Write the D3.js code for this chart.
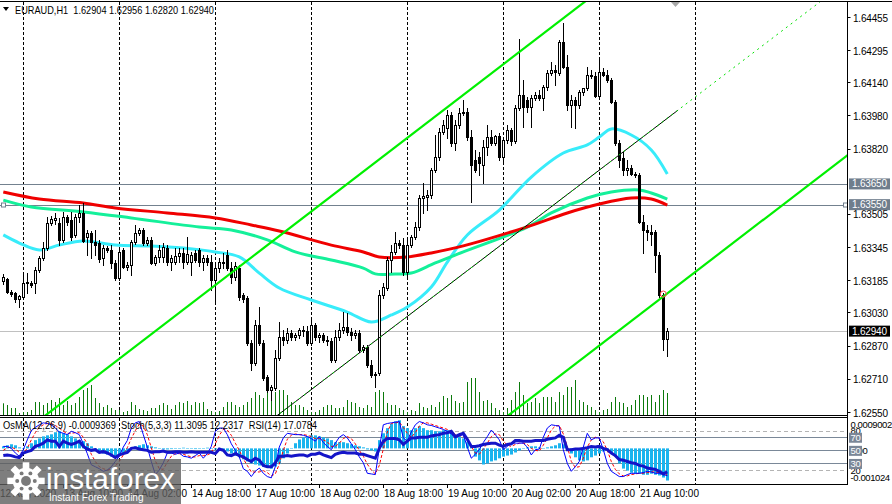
<!DOCTYPE html>
<html>
<head>
<meta charset="utf-8">
<script src="https://cdn.jsdelivr.net/npm/d3@7"></script>
<style>
  body { margin: 0; background: #fff; }
  svg { display: block; font-family: "Liberation Sans", Arial, sans-serif; }
</style>
</head>
<body>
<svg id="chart" width="892" height="504"></svg>
<script>
// EURAUD H1, bar 0 = 12 Aug 19:00, last bar = 21 Aug 17:00
var headerText = "EURAUD,H1  1.62904 1.62956 1.62820 1.62940";
var paneText = "OsMA(12,26,9) -0.0009369  Stoch(5,3,3) 11.3095 12.2317  RSI(14) 17.0784";

var opens = [
  1.63182, 1.63192, 1.63129, 1.63124, 1.63095, 1.63104, 1.63172, 1.63172, 1.63172, 1.63235,
  1.63293, 1.63341, 1.63461, 1.63476, 1.63461, 1.63380, 1.63490, 1.63476, 1.63404, 1.63490,
  1.63510, 1.63394, 1.63413, 1.63370, 1.63365, 1.63293, 1.63341, 1.63331, 1.63268, 1.63197,
  1.63331, 1.63250, 1.63259, 1.63370, 1.63413, 1.63428, 1.63365, 1.63380, 1.63268, 1.63298,
  1.63298, 1.63341, 1.63273, 1.63273, 1.63302, 1.63317, 1.63273, 1.63273, 1.63317, 1.63331,
  1.63273, 1.63293, 1.63273, 1.63187, 1.63245, 1.63273, 1.63307, 1.63245, 1.63201, 1.63245,
  1.63114, 1.63100, 1.62883, 1.62786, 1.62970, 1.62883, 1.62718, 1.62656, 1.62665, 1.62810,
  1.62912, 1.62897, 1.62931, 1.62912, 1.62921, 1.62945, 1.62941, 1.62883, 1.62970, 1.62912,
  1.62921, 1.62897, 1.62892, 1.62801, 1.62912, 1.62945, 1.62960, 1.62936, 1.62921, 1.62931,
  1.62849, 1.62863, 1.62777, 1.62728, 1.62738, 1.63114, 1.63148, 1.63283, 1.63322, 1.63365,
  1.63355, 1.63225, 1.63355, 1.63394, 1.63442, 1.63582, 1.63587, 1.63597, 1.63717, 1.63780,
  1.63900, 1.63920, 1.63982, 1.63847, 1.63934, 1.63992, 1.63997, 1.63876, 1.63765, 1.63780,
  1.63741, 1.63828, 1.63876, 1.63847, 1.63881, 1.63780, 1.63862, 1.63910, 1.63857, 1.64016,
  1.64079, 1.64055, 1.64021, 1.64064, 1.64079, 1.64064, 1.64117, 1.64185, 1.64199, 1.64185,
  1.64334, 1.64214, 1.64031, 1.64055, 1.64031, 1.64093, 1.64113, 1.64175, 1.64170, 1.64074,
  1.64190, 1.64175, 1.64151, 1.64045, 1.63847, 1.63775, 1.63717, 1.63727, 1.63698, 1.63693,
  1.63466, 1.63428, 1.63418, 1.63418, 1.63307, 1.63114, 1.62904
];
var highs = [
  1.63216, 1.63197, 1.63138, 1.63129, 1.63114, 1.63221, 1.63221, 1.63182, 1.63250, 1.63302,
  1.63370, 1.63490, 1.63495, 1.63510, 1.63486, 1.63514, 1.63500, 1.63514, 1.63505, 1.63548,
  1.63558, 1.63428, 1.63423, 1.63428, 1.63380, 1.63355, 1.63351, 1.63355, 1.63283, 1.63331,
  1.63341, 1.63273, 1.63380, 1.63452, 1.63437, 1.63437, 1.63394, 1.63394, 1.63307, 1.63355,
  1.63365, 1.63355, 1.63307, 1.63341, 1.63341, 1.63341, 1.63394, 1.63322, 1.63331, 1.63341,
  1.63307, 1.63307, 1.63307, 1.63259, 1.63293, 1.63317, 1.63331, 1.63273, 1.63273, 1.63259,
  1.63124, 1.63109, 1.62897, 1.62994, 1.63056, 1.62897, 1.62728, 1.62680, 1.62849, 1.62984,
  1.62945, 1.62955, 1.62945, 1.62931, 1.62955, 1.62965, 1.62965, 1.62994, 1.62979, 1.62931,
  1.62931, 1.62916, 1.62907, 1.62945, 1.62979, 1.63032, 1.63027, 1.62955, 1.62945, 1.62945,
  1.62873, 1.62873, 1.62801, 1.62742, 1.63138, 1.63172, 1.63298, 1.63355, 1.63418, 1.63380,
  1.63389, 1.63380, 1.63404, 1.63466, 1.63597, 1.63654, 1.63621, 1.63727, 1.63886, 1.63920,
  1.63958, 1.64006, 1.63997, 1.63958, 1.64016, 1.64055, 1.64016, 1.63910, 1.63814, 1.63804,
  1.63862, 1.63934, 1.63910, 1.63886, 1.63896, 1.63876, 1.63934, 1.63920, 1.64031, 1.64349,
  1.64151, 1.64069, 1.64079, 1.64093, 1.64103, 1.64127, 1.64199, 1.64238, 1.64224, 1.64344,
  1.64426, 1.64272, 1.64079, 1.64069, 1.64103, 1.64113, 1.64214, 1.64199, 1.64190, 1.64248,
  1.64209, 1.64199, 1.64161, 1.64055, 1.63862, 1.63804, 1.63765, 1.63741, 1.63707, 1.63702,
  1.63500, 1.63452, 1.63452, 1.63428, 1.63322, 1.63124, 1.62956
];
var lows = [
  1.63167, 1.63124, 1.63109, 1.63080, 1.63056, 1.63100, 1.63124, 1.63153, 1.63124, 1.63225,
  1.63283, 1.63331, 1.63452, 1.63457, 1.63355, 1.63370, 1.63452, 1.63380, 1.63394, 1.63466,
  1.63370, 1.63307, 1.63293, 1.63307, 1.63273, 1.63259, 1.63322, 1.63245, 1.63187, 1.63187,
  1.63245, 1.63235, 1.63211, 1.63360, 1.63404, 1.63355, 1.63355, 1.63264, 1.63259, 1.63273,
  1.63273, 1.63259, 1.63235, 1.63264, 1.63273, 1.63245, 1.63264, 1.63211, 1.63273, 1.63254,
  1.63235, 1.63259, 1.63138, 1.63076, 1.63225, 1.63245, 1.63235, 1.63172, 1.63187, 1.63090,
  1.63080, 1.62873, 1.62752, 1.62777, 1.62873, 1.62704, 1.62646, 1.62608, 1.62656, 1.62801,
  1.62873, 1.62883, 1.62897, 1.62897, 1.62907, 1.62916, 1.62873, 1.62873, 1.62897, 1.62888,
  1.62888, 1.62873, 1.62791, 1.62791, 1.62897, 1.62931, 1.62921, 1.62897, 1.62907, 1.62839,
  1.62839, 1.62767, 1.62718, 1.62670, 1.62728, 1.63100, 1.63138, 1.63225, 1.63312, 1.63341,
  1.63211, 1.63197, 1.63346, 1.63384, 1.63428, 1.63510, 1.63524, 1.63582, 1.63707, 1.63765,
  1.63891, 1.63872, 1.63833, 1.63814, 1.63920, 1.63982, 1.63862, 1.63563, 1.63707, 1.63693,
  1.63654, 1.63789, 1.63838, 1.63838, 1.63765, 1.63756, 1.63847, 1.63838, 1.63847, 1.64006,
  1.63924, 1.63997, 1.63924, 1.64055, 1.64055, 1.64006, 1.64103, 1.64175, 1.64127, 1.64175,
  1.64209, 1.64006, 1.63924, 1.63920, 1.64016, 1.64079, 1.64103, 1.64161, 1.64069, 1.64064,
  1.64170, 1.64141, 1.64040, 1.63838, 1.63731, 1.63693, 1.63693, 1.63693, 1.63683, 1.63461,
  1.63317, 1.63380, 1.63355, 1.63225, 1.63104, 1.62849, 1.62820
];
var closes = [
  1.63201, 1.63129, 1.63119, 1.63095, 1.63109, 1.63172, 1.63177, 1.63162, 1.63235, 1.63293,
  1.63341, 1.63461, 1.63481, 1.63486, 1.63380, 1.63490, 1.63466, 1.63394, 1.63490, 1.63510,
  1.63375, 1.63413, 1.63370, 1.63355, 1.63288, 1.63341, 1.63331, 1.63268, 1.63197, 1.63322,
  1.63250, 1.63259, 1.63370, 1.63413, 1.63428, 1.63365, 1.63380, 1.63268, 1.63298, 1.63331,
  1.63346, 1.63273, 1.63293, 1.63302, 1.63317, 1.63273, 1.63312, 1.63307, 1.63283, 1.63273,
  1.63293, 1.63273, 1.63187, 1.63245, 1.63273, 1.63268, 1.63245, 1.63201, 1.63254, 1.63104,
  1.63095, 1.62883, 1.62786, 1.62970, 1.62883, 1.62714, 1.62656, 1.62670, 1.62810, 1.62912,
  1.62897, 1.62931, 1.62912, 1.62921, 1.62945, 1.62941, 1.62883, 1.62970, 1.62912, 1.62921,
  1.62897, 1.62892, 1.62801, 1.62912, 1.62945, 1.62960, 1.62936, 1.62921, 1.62931, 1.62849,
  1.62863, 1.62777, 1.62728, 1.62733, 1.63114, 1.63153, 1.63283, 1.63322, 1.63365, 1.63355,
  1.63225, 1.63355, 1.63394, 1.63442, 1.63582, 1.63592, 1.63597, 1.63717, 1.63780, 1.63900,
  1.63934, 1.63982, 1.63847, 1.63934, 1.63992, 1.63997, 1.63876, 1.63741, 1.63717, 1.63751,
  1.63828, 1.63876, 1.63847, 1.63881, 1.63780, 1.63862, 1.63910, 1.63857, 1.64016, 1.64079,
  1.64021, 1.64021, 1.64064, 1.64079, 1.64064, 1.64117, 1.64185, 1.64199, 1.64190, 1.64334,
  1.64214, 1.64031, 1.64055, 1.64031, 1.64093, 1.64113, 1.64175, 1.64170, 1.64074, 1.64190,
  1.64175, 1.64151, 1.64045, 1.63847, 1.63765, 1.63717, 1.63727, 1.63698, 1.63693, 1.63466,
  1.63428, 1.63418, 1.63409, 1.63307, 1.63114, 1.62902, 1.62940
];
var volumes = [
  1170, 1000, 700, 700, 200, 300, 300, 500, 1300, 1300,
  1000, 1200, 1500, 1300, 1700, 1000, 1400, 1000, 1200, 1800,
  2500, 2700, 3000, 1700, 1200, 800, 1000, 700, 500, 500,
  300, 400, 1300, 1000, 600, 500, 400, 700, 700, 1000,
  1200, 1000, 600, 1000, 1300, 1200, 1400, 1000, 1300, 1200,
  1300, 600, 400, 300, 400, 800, 1300, 1300, 1000, 800,
  1000, 1300, 1700, 2300, 2000, 1700, 2300, 2200, 2300, 2500,
  2500, 2000, 1300, 1000, 1000, 800, 500, 300, 300, 500,
  800, 1000, 1000, 700, 700, 800, 1500, 1300, 1200, 800,
  700, 1000, 800, 2300, 2500, 2300, 1200, 1000, 1000, 700,
  500, 300, 500, 400, 1200, 800, 700, 1000, 800, 1300,
  1900, 1700, 2000, 1400, 1200, 1300, 3300, 3700, 3700, 2300,
  1400, 1500, 1200, 700, 500, 300, 700, 1500, 2300, 3300,
  2000, 1200, 1300, 1700, 1200, 1800, 1800, 1800, 1300, 2300,
  2000, 2800, 2800, 3500, 1500, 1300, 1000, 800, 500, 300,
  500, 600, 1300, 1800, 1300, 1200, 800, 1000, 1500, 2000,
  2000, 1800, 2000, 1300, 2000, 2500, 2200
];

// moving averages, read at sample bars
var maCyanBars = [0, 4, 9, 14, 20, 28, 37, 45, 53, 59, 64, 69, 77, 86, 92, 97, 101, 107, 111, 116, 124, 132, 140, 146, 149, 152, 157, 162, 166];
var maCyan = [1.63404, 1.63365, 1.63331, 1.63355, 1.63375, 1.63355, 1.63351, 1.63341, 1.63322, 1.63298, 1.63220, 1.63148, 1.63090, 1.63032, 1.62984, 1.63018, 1.63056, 1.63153, 1.63273, 1.63404, 1.63524, 1.63683, 1.63799, 1.63838, 1.63876, 1.63915, 1.63886, 1.63814, 1.63698];
var maGreenBars = [0, 7, 20, 32, 49, 57, 66, 73, 82, 90, 93, 98, 102, 108, 115, 131, 137, 146, 152, 159, 162, 166];
var maGreen = [1.63572, 1.63539, 1.63515, 1.63486, 1.63442, 1.63428, 1.63380, 1.63322, 1.63283, 1.63244, 1.63216, 1.63216, 1.63220, 1.63269, 1.63322, 1.63442, 1.63510, 1.63582, 1.63611, 1.63621, 1.63606, 1.63577];
var maRedBars = [0, 9, 20, 28, 41, 53, 62, 69, 82, 90, 94, 101, 107, 115, 130, 141, 149, 157, 162, 166];
var maRed = [1.63611, 1.63577, 1.63558, 1.63534, 1.63510, 1.63486, 1.63452, 1.63423, 1.63355, 1.63322, 1.63298, 1.63298, 1.63317, 1.63351, 1.63437, 1.63510, 1.63553, 1.63582, 1.63577, 1.63548];

var osma = [
  0.00006, 0.00009, 0.00012, 0.00009, 0.00003, 0.00001, 0.00006, 0.00015, 0.00024, 0.00029,
  0.00035, 0.00038, 0.00041, 0.00047, 0.00050, 0.00044, 0.00041, 0.00035, 0.00029, 0.00024,
  0.00021, 0.00015, 0.00006, -0.00006, -0.00009, -0.00015, -0.00018, -0.00024, -0.00024, -0.00021,
  -0.00015, -0.00009, 0.00000, 0.00006, 0.00009, 0.00012, 0.00009, 0.00006, 0.00003, 0.00001,
  -0.00003, -0.00003, -0.00002, -0.00001, 0.00001, 0.00002, 0.00001, -0.00001, -0.00002, -0.00001,
  0.00001, 0.00002, 0.00001, -0.00003, -0.00002, -0.00005, -0.00009, -0.00015, -0.00021, -0.00026,
  -0.00032, -0.00038, -0.00044, -0.00047, -0.00050, -0.00053, -0.00056, -0.00059, -0.00053, -0.00044,
  -0.00029, -0.00015, 0.00001, 0.00015, 0.00026, 0.00032, 0.00035, 0.00038, 0.00038, 0.00035,
  0.00032, 0.00029, 0.00024, 0.00018, 0.00018, 0.00018, 0.00015, 0.00012, 0.00009, 0.00006,
  0.00003, -0.00003, -0.00006, -0.00009, 0.00024, 0.00044, 0.00059, 0.00071, 0.00079, 0.00082,
  0.00065, 0.00059, 0.00053, 0.00059, 0.00065, 0.00059, 0.00053, 0.00053, 0.00050, 0.00050,
  0.00053, 0.00053, 0.00050, 0.00038, 0.00035, 0.00029, 0.00018, 0.00000, -0.00024, -0.00035,
  -0.00047, -0.00044, -0.00038, -0.00035, -0.00029, -0.00024, -0.00021, -0.00018, -0.00012, -0.00006,
  0.00000, 0.00003, 0.00006, 0.00006, 0.00003, 0.00001, 0.00003, 0.00006, 0.00009, 0.00015,
  0.00012, 0.00000, -0.00015, -0.00026, -0.00035, -0.00038, -0.00035, -0.00026, -0.00021, -0.00015,
  -0.00009, -0.00006, -0.00012, -0.00024, -0.00044, -0.00059, -0.00065, -0.00071, -0.00074, -0.00074,
  -0.00077, -0.00077, -0.00074, -0.00077, -0.00079, -0.00085, -0.0009369
];
var rsi = [
  42, 43, 42, 40, 39, 46, 48, 50, 56, 58,
  61, 66, 64, 64, 56, 64, 61, 59, 61, 64,
  56, 52, 50, 51, 47, 48, 46, 43, 39, 43,
  45, 47, 53, 54, 52, 51, 50, 47, 48, 48,
  49, 47, 47, 48, 48, 47, 47, 48, 47, 47,
  47, 47, 47, 45, 52, 50, 43, 42, 45, 42,
  40, 36, 33, 38, 35, 27, 25, 25, 31, 41,
  41, 42, 41, 42, 43, 43, 41, 44, 44, 46,
  43, 41, 39, 44, 46, 47, 46, 46, 46, 44,
  44, 42, 40, 38, 53, 64, 68, 68, 68, 66,
  59, 64, 69, 69, 70, 70, 70, 72, 73, 74,
  76, 77, 79, 71, 74, 76, 67, 56, 56, 57,
  59, 60, 61, 61, 58, 56, 59, 60, 65, 65,
  64, 64, 64, 65, 65, 65, 67, 68, 69, 73,
  70, 51, 51, 52, 52, 53, 54, 56, 55, 56,
  53, 51, 46, 42, 36, 35, 33, 31, 30, 27,
  26, 23, 22, 21, 18, 14, 17.0784
];
var stochMain = [
  56, 56, 53, 46, 41, 51, 66, 80, 85, 89,
  92, 91, 89, 84, 78, 76, 74, 79, 77, 74,
  60, 45, 28, 25, 22, 18, 20, 25, 33, 41,
  55, 65, 84, 92, 94, 74, 55, 33, 13, 20,
  31, 46, 46, 44, 46, 41, 40, 38, 42, 46,
  38, 45, 56, 79, 84, 84, 74, 60, 50, 40,
  22, 18, 10, 18, 23, 15, 10, 8, 25, 55,
  69, 76, 75, 74, 74, 73, 71, 68, 64, 71,
  62, 56, 51, 61, 70, 74, 69, 60, 51, 40,
  31, 15, 14, 13, 53, 89, 91, 92, 93, 94,
  69, 64, 78, 89, 94, 92, 89, 88, 86, 84,
  82, 79, 75, 69, 72, 74, 55, 38, 44, 51,
  62, 71, 81, 74, 66, 51, 56, 61, 61, 61,
  61, 55, 43, 51, 52, 70, 84, 89, 88, 87,
  51, 30, 18, 25, 33, 55, 76, 66, 69, 69,
  51, 30, 18, 14, 10, 10, 13, 15, 15, 15,
  16, 18, 17, 15, 15, 13, 11.3095
];
var stochSignal = [
  50, 54, 55, 52, 47, 46, 53, 66, 77, 85,
  89, 91, 91, 88, 84, 79, 76, 76, 77, 77,
  70, 60, 44, 33, 25, 22, 20, 21, 26, 33,
  43, 54, 68, 80, 90, 87, 74, 54, 34, 22,
  21, 32, 41, 45, 45, 44, 42, 40, 40, 42,
  42, 43, 46, 60, 73, 82, 81, 73, 61, 50,
  37, 27, 17, 17, 17, 19, 16, 11, 14, 29,
  50, 67, 73, 75, 74, 74, 73, 71, 68, 68,
  66, 63, 56, 56, 61, 68, 71, 68, 60, 50,
  41, 29, 20, 14, 27, 52, 78, 91, 92, 93,
  85, 76, 70, 77, 87, 92, 92, 90, 88, 86,
  84, 82, 79, 74, 72, 72, 67, 56, 46, 44,
  52, 61, 71, 75, 74, 64, 58, 56, 59, 61,
  61, 59, 53, 50, 49, 58, 69, 81, 87, 88,
  75, 56, 33, 24, 25, 38, 55, 66, 70, 68,
  63, 50, 33, 21, 14, 11, 11, 13, 14, 15,
  15, 16, 17, 17, 16, 14, 12.2317
];

var priceTicks = [1.64455, 1.64295, 1.64140, 1.63980, 1.63820, 1.63505, 1.63345, 1.63185, 1.63030, 1.62870, 1.62710, 1.62550];
var levelPrices = [1.63650, 1.63550];
var lastPrice = 1.62940;
var timeLabels = ["12 Aug 2020", "13 Aug 10:00", "14 Aug 02:00", "14 Aug 18:00", "17 Aug 10:00", "18 Aug 02:00", "18 Aug 18:00", "19 Aug 10:00", "20 Aug 02:00", "20 Aug 18:00", "21 Aug 10:00"];
var timeLabelBars = [-1, 15, 31, 47, 63, 79, 95, 111, 127, 143, 159];
var daySeparatorBars = [5, 29, 53, 77, 101, 125, 149, 173];
var oscSolidLevels = [70, 50, 30];
var oscDashedLevels = [80, 20];
var osmaMax = 0.0009002, osmaMin = -0.001024;

// trend lines: [bar, price] anchors
var channelUpper = [[8, 1.62496], [150, 1.64597]];
var channelLower = [[126, 1.62530], [215, 1.63847]];
var midLineSolid = [[68, 1.62526], [168.7, 1.64006]];
var midLineRay = [[68, 1.62526], [215, 1.64687]];
var alertMark = [165, 1.63119];

var svg = d3.select("#chart");
var axisX = 847.5;

var x = d3.scaleLinear().domain([0, 211]).range([3.3, 847.3]);
var y = d3.scaleLinear().domain([1.62550, 1.64455]).range([412, 17]);
var vy = d3.scaleLinear().domain([0, 4000]).range([415, 375]);
var oy = d3.scaleLinear().domain([osmaMin, osmaMax]).range([483.5, 417.5]);
var sy = d3.scaleLinear().domain([0, 100]).range([483.1, 417.6]);

function px(i) { return Math.round(x(i)); }
var fmt = d3.format(".5f");

var defs = svg.append("defs");
defs.append("clipPath").attr("id", "mainClip").append("rect").attr("x", 0).attr("y", 2).attr("width", 847).attr("height", 413);
defs.append("clipPath").attr("id", "oscClip").append("rect").attr("x", 0).attr("y", 418).attr("width", 847).attr("height", 66);

svg.append("rect").attr("width", 892).attr("height", 504).attr("fill", "#fff");

// period separators
daySeparatorBars.forEach(function (b) {
    [[2, 415], [418, 484]].forEach(function (r) {
        svg.append("line")
            .attr("x1", px(b) + 0.5).attr("x2", px(b) + 0.5)
            .attr("y1", r[0]).attr("y2", r[1])
            .attr("stroke", "#000").attr("stroke-dasharray", "3,2");
    });
});

var main = svg.append("g").attr("clip-path", "url(#mainClip)");

main.selectAll(".level")
    .data(levelPrices)
    .enter().append("line")
    .attr("x1", 0).attr("x2", axisX)
    .attr("y1", function (d) { return Math.round(y(d)) + 0.5; })
    .attr("y2", function (d) { return Math.round(y(d)) + 0.5; })
    .attr("stroke", "#73818f").attr("stroke-width", 1.2);

main.append("line")
    .attr("x1", 0).attr("x2", axisX)
    .attr("y1", Math.round(y(lastPrice)) + 0.5).attr("y2", Math.round(y(lastPrice)) + 0.5)
    .attr("stroke", "#c0c0c0");

// volumes
main.selectAll(".vol")
    .data(volumes)
    .enter().append("line")
    .attr("x1", function (d, i) { return px(i) + 0.5; })
    .attr("x2", function (d, i) { return px(i) + 0.5; })
    .attr("y1", vy(0))
    .attr("y2", function (d) { return vy(d); })
    .attr("stroke", "#0b7a0b");

// moving averages
var maLine = d3.line()
    .x(function (d) { return x(d[0]); })
    .y(function (d) { return y(d[1]); })
    .curve(d3.curveCatmullRom);

[[maCyanBars, maCyan, "#38ecfa"], [maGreenBars, maGreen, "#14f09a"], [maRedBars, maRed, "#f00000"]].forEach(function (s) {
    var pts = s[0].map(function (b, k) { return [b, s[1][k]]; });
    main.append("path")
        .attr("d", maLine(pts))
        .attr("fill", "none")
        .attr("stroke", s[2])
        .attr("stroke-width", 3);
});

// candles
var candles = main.selectAll(".candle")
    .data(closes)
    .enter().append("g");

candles.append("line")
    .attr("x1", function (d, i) { return px(i) + 0.5; })
    .attr("x2", function (d, i) { return px(i) + 0.5; })
    .attr("y1", function (d, i) { return Math.round(y(highs[i])); })
    .attr("y2", function (d, i) { return Math.round(y(lows[i])) + 1; })
    .attr("stroke", "#000");

candles.append("rect")
    .attr("x", function (d, i) { return d >= opens[i] ? px(i) - 0.5 : px(i) - 1; })
    .attr("width", function (d, i) { return d >= opens[i] ? 2 : 3; })
    .attr("y", function (d, i) {
        var t = Math.round(y(Math.max(d, opens[i])));
        return d >= opens[i] ? t + 0.5 : t;
    })
    .attr("height", function (d, i) {
        var t = Math.round(y(Math.max(d, opens[i])));
        var b = Math.round(y(Math.min(d, opens[i])));
        return d >= opens[i] ? Math.max(b - t, 0) : Math.max(b - t + 1, 1);
    })
    .attr("fill", function (d, i) { return d >= opens[i] ? "#fff" : "#000"; })
    .attr("stroke", function (d, i) { return d >= opens[i] ? "#000" : "none"; });

// trend lines
var tl = d3.line()
    .x(function (d) { return x(d[0]); })
    .y(function (d) { return y(d[1]); });

main.append("path").attr("d", tl(channelUpper)).attr("stroke", "#00f000").attr("stroke-width", 2.2).attr("fill", "none");
main.append("path").attr("d", tl(channelLower)).attr("stroke", "#00f000").attr("stroke-width", 2.2).attr("fill", "none");
main.append("path").attr("d", tl(midLineSolid)).attr("stroke", "#000").attr("stroke-width", 1).attr("fill", "none");
main.append("path").attr("d", tl(midLineRay)).attr("stroke", "#00e000").attr("stroke-width", 1).attr("stroke-dasharray", "2,4").attr("fill", "none");

main.append("circle")
    .attr("cx", x(alertMark[0])).attr("cy", y(alertMark[1])).attr("r", 3)
    .attr("fill", "none").attr("stroke", "#ff4a4a").attr("stroke-width", 1);

// line handles
[1.5, 843.5].forEach(function (hx) {
    svg.append("rect")
        .attr("x", hx).attr("y", Math.round(y(levelPrices[1])) - 2)
        .attr("width", 4).attr("height", 4)
        .attr("fill", "#fff").attr("stroke", "#73818f");
});

// chart shift marker
svg.append("path")
    .attr("d", "M" + (px(168) - 4) + ",2 L" + (px(168) + 5) + ",2 L" + (px(168) + 0.5) + ",7 Z")
    .attr("fill", "#a8a8a8");

// oscillator pane
var osc = svg.append("g").attr("clip-path", "url(#oscClip)");

osc.selectAll(".dlev")
    .data(oscDashedLevels)
    .enter().append("line")
    .attr("x1", 0).attr("x2", axisX)
    .attr("y1", function (d) { return Math.round(sy(d)) + 0.5; })
    .attr("y2", function (d) { return Math.round(sy(d)) + 0.5; })
    .attr("stroke", "#b4b4b4").attr("stroke-dasharray", "4,3");

osc.selectAll(".slev")
    .data(oscSolidLevels)
    .enter().append("line")
    .attr("x1", 0).attr("x2", axisX)
    .attr("y1", function (d) { return Math.round(sy(d)) + 0.5; })
    .attr("y2", function (d) { return Math.round(sy(d)) + 0.5; })
    .attr("stroke", "#7a8898").attr("stroke-width", 1.2);

osc.selectAll(".hist")
    .data(osma)
    .enter().append("rect")
    .attr("x", function (d, i) { return px(i) - 1; })
    .attr("width", 3)
    .attr("y", function (d) { return Math.min(oy(d), oy(0)); })
    .attr("height", function (d) { return Math.max(Math.abs(oy(d) - oy(0)), 0.5); })
    .attr("fill", "#1ab4ee");

var oscLine = d3.line()
    .x(function (d, i) { return x(i); })
    .y(function (d) { return sy(d); });

osc.append("path").attr("d", oscLine(stochSignal)).attr("fill", "none").attr("stroke", "#ff0000").attr("stroke-dasharray", "3,2");
osc.append("path").attr("d", oscLine(stochMain)).attr("fill", "none").attr("stroke", "#0000ff");
osc.append("path").attr("d", oscLine(rsi)).attr("fill", "none").attr("stroke", "#1414c8").attr("stroke-width", 3);

// frame
svg.append("line").attr("x1", 0).attr("x2", 892).attr("y1", 1.5).attr("y2", 1.5).attr("stroke", "#000");
[415.5, 417.5, 484.5].forEach(function (ly) {
    svg.append("line").attr("x1", 0).attr("x2", 848).attr("y1", ly).attr("y2", ly).attr("stroke", "#000");
});
svg.append("line").attr("x1", axisX).attr("x2", axisX).attr("y1", 1).attr("y2", 485).attr("stroke", "#000");

// price axis
var axisG = svg.append("g").attr("font-size", "10px").attr("letter-spacing", "-0.2px");

axisG.selectAll(".tick")
    .data(priceTicks)
    .enter().append("line")
    .attr("x1", axisX).attr("x2", axisX + 3)
    .attr("y1", function (d) { return Math.round(y(d)) + 0.5; })
    .attr("y2", function (d) { return Math.round(y(d)) + 0.5; })
    .attr("stroke", "#000");

axisG.selectAll(".tlab")
    .data(priceTicks)
    .enter().append("text")
    .attr("x", 853)
    .attr("y", function (d) { return y(d) + 1; })
    .attr("dy", "0.35em")
    .attr("fill", "#000")
    .text(fmt);

levelPrices.forEach(function (p) {
    axisG.append("rect").attr("x", 849).attr("y", y(p) - 5.5).attr("width", 41).attr("height", 11).attr("fill", "#6f7d8c");
    axisG.append("text").attr("x", 852).attr("y", y(p)).attr("dy", "0.35em").attr("fill", "#fff").text(fmt(p));
});
axisG.append("rect").attr("x", 849).attr("y", y(lastPrice) - 5.5).attr("width", 41).attr("height", 11).attr("fill", "#000");
axisG.append("text").attr("x", 852).attr("y", y(lastPrice)).attr("dy", "0.35em").attr("fill", "#fff").text(fmt(lastPrice));

// oscillator axis labels
var oscAxis = svg.append("g").attr("font-size", "9.5px").attr("letter-spacing", "-0.4px");
oscAxis.append("text").attr("x", 850.5).attr("y", 425).attr("dy", "0.35em").text(String(osmaMax));
oscAxis.append("text").attr("x", 850.5).attr("y", sy(80)).attr("dy", "0.35em").text("80");
oscAxis.append("text").attr("x", 850.5).attr("y", oy(0) + 2).attr("dy", "0.35em").text("0.00");
oscAxis.append("text").attr("x", 850.5).attr("y", sy(20) + 1).attr("dy", "0.35em").text("20");
oscAxis.append("text").attr("x", 850.5).attr("y", 477.5).attr("dy", "0.35em").text(String(osmaMin));
oscSolidLevels.forEach(function (v) {
    oscAxis.append("rect").attr("x", 849).attr("y", sy(v) - 4.5).attr("width", 13).attr("height", 10).attr("fill", "#7b8797");
    oscAxis.append("text").attr("x", 850.5).attr("y", sy(v) + 0.5).attr("dy", "0.35em").attr("fill", "#fff").text(v);
});

// time axis
var timeG = svg.append("g").attr("font-size", "10px");
timeG.selectAll(".tt")
    .data(timeLabelBars)
    .enter().append("line")
    .attr("x1", function (d) { return px(d) + 0.5; })
    .attr("x2", function (d) { return px(d) + 0.5; })
    .attr("y1", 485).attr("y2", 488)
    .attr("stroke", "#000");
timeG.selectAll(".tl")
    .data(timeLabels)
    .enter().append("text")
    .attr("x", function (d, i) { return Math.max(px(timeLabelBars[i]) + 1, 0); })
    .attr("y", 497)
    .attr("fill", "#000")
    .text(function (d) { return d; });

// titles
svg.append("path").attr("d", "M3,7 L9,7 L6,11 Z").attr("fill", "#000");
svg.append("text").attr("x", 15).attr("y", 13.5).attr("font-size", "10.5px")
    .attr("textLength", 199).attr("lengthAdjust", "spacingAndGlyphs")
    .style("white-space", "pre").text(headerText);
svg.append("text").attr("x", 3).attr("y", 429).attr("font-size", "10px")
    .attr("textLength", 314).attr("lengthAdjust", "spacingAndGlyphs")
    .style("white-space", "pre").text(paneText);

// watermark
var wm = svg.append("g");
wm.append("rect").attr("x", 0).attr("y", 459).attr("width", 181).attr("height", 45).attr("fill", "#5e5e5e").attr("opacity", 0.8);
var gear = wm.append("g").attr("transform", "translate(26,481) scale(1.1)").attr("fill", "#fff");
d3.range(8).forEach(function (k) {
    gear.append("rect").attr("x", -3).attr("y", -17).attr("width", 6).attr("height", 7)
        .attr("transform", "rotate(" + (k * 45) + ")");
});
gear.append("circle").attr("r", 12);
gear.append("circle").attr("r", 4.5).attr("fill", "#7a7a7a");
d3.range(6).forEach(function (k) {
    var a = k * Math.PI / 3;
    gear.append("circle").attr("cx", 8 * Math.cos(a)).attr("cy", 8 * Math.sin(a)).attr("r", 1.8).attr("fill", "#7a7a7a");
});
wm.append("text").attr("x", 46).attr("y", 489).attr("font-size", "30px").attr("fill", "#fff")
    .attr("textLength", 129).attr("lengthAdjust", "spacingAndGlyphs").text("instaforex");
wm.append("text").attr("x", 49).attr("y", 501).attr("font-size", "10px").attr("fill", "#fff").text("Instant Forex Trading");
</script>
</body>
</html>
